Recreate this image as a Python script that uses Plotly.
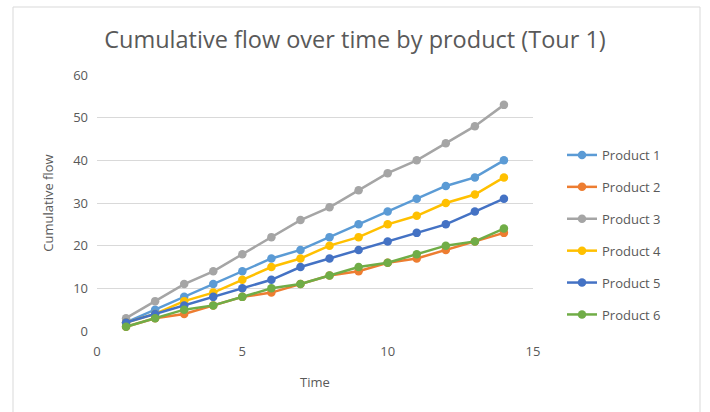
import plotly.graph_objects as go

time = list(range(1, 15))
product_names = ["Product 1", "Product 2", "Product 3", "Product 4", "Product 5", "Product 6"]
product_1 = [2, 5, 8, 11, 14, 17, 19, 22, 25, 28, 31, 34, 36, 40]
product_2 = [1, 3, 4, 6, 8, 9, 11, 13, 14, 16, 17, 19, 21, 23]
product_3 = [3, 7, 11, 14, 18, 22, 26, 29, 33, 37, 40, 44, 48, 53]
product_4 = [2, 4, 7, 9, 12, 15, 17, 20, 22, 25, 27, 30, 32, 36]
product_5 = [2, 4, 6, 8, 10, 12, 15, 17, 19, 21, 23, 25, 28, 31]
product_6 = [1, 3, 5, 6, 8, 10, 11, 13, 15, 16, 18, 20, 21, 24]
series = [product_1, product_2, product_3, product_4, product_5, product_6]
colors = ["#5B9BD5", "#ED7D31", "#A5A5A5", "#FFC000", "#4472C4", "#70AD47"]

FONT = "Open Sans, sans-serif"
GREY = "#595959"

fig = go.Figure()
for name, vals, col in zip(product_names, series, colors):
    fig.add_trace(go.Scatter(
        x=time, y=vals, name=name, mode="lines+markers",
        line=dict(color=col, width=2.5),
        marker=dict(color=col, size=8.5),
        legendgroup=name,
    ))

L, R, T, B = 97, 177, 75, 81
W, H = 710, 412
pw = W - L - R
ph = H - T - B

def px_x(p):
    return (p - L) / pw

def px_y(p):
    return (H - B - p) / ph

fig.update_layout(
    width=W, height=H,
    margin=dict(l=L, r=R, t=T, b=B, pad=0),
    paper_bgcolor="white", plot_bgcolor="white",
    font=dict(family=FONT, color=GREY, size=12),
    title=dict(text="Cumulative flow over time by product (Tour 1)",
               x=355 / W, xanchor="center", xref="container",
               y=1 - 40 / H, yanchor="middle", yref="container",
               font=dict(size=23.5, color=GREY, family=FONT)),
    showlegend=True,
    legend=dict(x=px_x(562), xanchor="left", y=px_y(140), yanchor="top",
                font=dict(size=13, color=GREY, family=FONT),
                tracegroupgap=12, itemwidth=30, bgcolor="rgba(0,0,0,0)"),
    xaxis=dict(range=[0, 15], tickvals=[0, 5, 10, 15], showgrid=False,
               zeroline=False, showline=False, ticks="", ticklabelstandoff=11,
               tickfont=dict(size=13, color=GREY),
               title=dict(text="Time", font=dict(size=13, color=GREY), standoff=18)),
    yaxis=dict(range=[0, 60], tickvals=[0, 10, 20, 30, 40, 50, 60], showgrid=True,
               gridcolor="#D9D9D9", gridwidth=1, zeroline=False, showline=False,
               ticks="", ticklabelstandoff=8,
               tickfont=dict(size=13, color=GREY),
               title=dict(text="Cumulative flow", font=dict(size=13, color=GREY), standoff=16)),
    shapes=[dict(type="rect", xref="paper", yref="paper",
                 x0=px_x(13), x1=px_x(700), y0=px_y(430), y1=px_y(7),
                 line=dict(color="#D9D9D9", width=1), fillcolor="rgba(0,0,0,0)",
                 layer="below")],
)

fig.write_html("out.html")
